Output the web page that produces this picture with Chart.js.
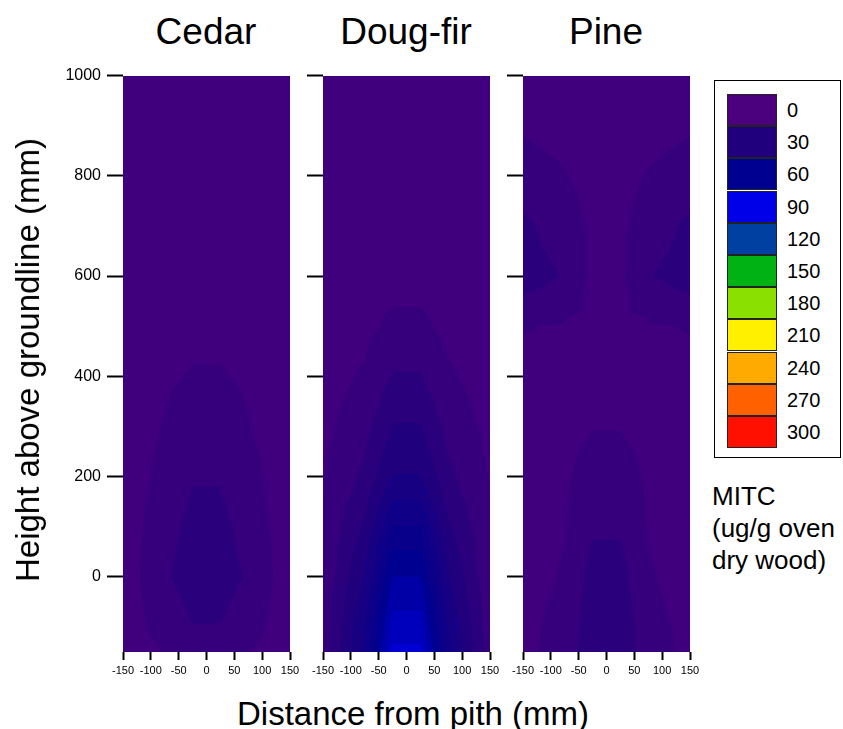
<!DOCTYPE html>
<html>
<head>
<meta charset="utf-8">
<script src="https://cdn.jsdelivr.net/npm/chart.js@4.4.1/dist/chart.umd.min.js"></script>
<style>
  body { margin: 0; background: #fff; width: 843px; height: 729px; position: relative; overflow: hidden;
         font-family: "Liberation Sans", Arial, Helvetica, sans-serif; color: #000; }
  canvas.panel { position: absolute; top: 60px; }
  .title { position: absolute; top: 10px; width: 200px; text-align: center; font-size: 37px; line-height: 44px; }
  #ytitle { position: absolute; left: 28px; top: 360px; font-size: 33px; white-space: nowrap;
            transform: translate(-50%, -50%) rotate(-90deg); }
  #xtitle { position: absolute; left: 413px; top: 714px; font-size: 33px; white-space: nowrap;
            transform: translate(-50%, -50%); }
  #legendBox { position: absolute; left: 714px; top: 80px; width: 125px; height: 376px; border: 1.5px solid #000; }
  .swatch { position: absolute; left: 12px; width: 48px; height: 30px; border: 1px solid #222; }
  .lvl { position: absolute; left: 72px; font-size: 20px; line-height: 20px; }
  #units { position: absolute; left: 712px; top: 480px; font-size: 26px; line-height: 32px; }
</style>
</head>
<body>

<div class="title" style="left:106px">Cedar</div>
<div class="title" style="left:306px">Doug-fir</div>
<div class="title" style="left:506px">Pine</div>

<canvas class="panel" id="cedarChart" width="266" height="630" style="left:40px"></canvas>
<canvas class="panel" id="dougfirChart" width="266" height="630" style="left:240px"></canvas>
<canvas class="panel" id="pineChart" width="266" height="630" style="left:440px"></canvas>

<div id="ytitle">Height above groundline (mm)</div>
<div id="xtitle">Distance from pith (mm)</div>

<div id="legendBox"></div>
<div id="units">MITC<br>(ug/g oven<br>dry wood)</div>

<script>
// sample grid: distance from pith (columns) and height above groundline (rows)
const distances = [-150, -75, -25, 25, 75, 150];
const heights = [-150, -100, 0, 100, 200, 300, 400, 500, 600, 700, 800, 900, 1000];

const xTicks = [-150, -100, -50, 0, 50, 100, 150];
const yTicks = [0, 200, 400, 600, 800, 1000];

// MITC (ug/g oven dry wood), one row per height, bottom row first
const cedarMitc = [
  [3.0, 7.8, 11.0, 11.0, 7.8, 3.0],
  [3.0, 11.0, 14.8, 14.8, 11.0, 3.0],
  [3.0, 14.3, 18.0, 18.0, 14.3, 3.0],
  [3.0, 12.5, 17.0, 17.0, 12.5, 3.0],
  [3.0, 10.0, 14.5, 14.5, 10.0, 3.0],
  [2.8, 8.0, 11.0, 11.0, 8.0, 2.8],
  [2.6, 6.5, 8.0, 8.0, 6.5, 2.6],
  [2.5, 5.0, 6.0, 6.0, 5.0, 2.5],
  [2.4, 4.5, 5.0, 5.0, 4.5, 2.4],
  [2.3, 4.0, 4.5, 4.5, 4.0, 2.3],
  [2.2, 3.5, 4.0, 4.0, 3.5, 2.2],
  [2.1, 3.0, 3.5, 3.5, 3.0, 2.1],
  [2.0, 2.8, 3.0, 3.0, 2.8, 2.0]
];

const dougfirMitc = [
  [11.0, 40.0, 77.1, 77.1, 40.0, 11.0],
  [10.5, 37.5, 70.9, 70.9, 37.5, 10.5],
  [9.0, 31.0, 60.2, 60.2, 31.0, 9.0],
  [8.0, 24.0, 45.2, 45.2, 24.0, 8.0],
  [7.0, 17.0, 30.4, 30.4, 17.0, 7.0],
  [5.5, 12.5, 23.0, 23.0, 12.5, 5.5],
  [4.5, 8.5, 15.6, 15.6, 8.5, 4.5],
  [4.0, 5.5, 9.1, 9.1, 5.5, 4.0],
  [3.5, 4.2, 5.0, 5.0, 4.2, 3.5],
  [3.0, 3.5, 4.0, 4.0, 3.5, 3.0],
  [2.8, 3.2, 3.5, 3.5, 3.2, 2.8],
  [2.5, 2.8, 3.0, 3.0, 2.8, 2.5],
  [2.2, 2.4, 2.5, 2.5, 2.4, 2.2]
];

const pineMitc = [
  [5.5, 11.0, 20.0, 20.0, 11.0, 5.5],
  [5.5, 10.0, 20.0, 20.0, 10.0, 5.5],
  [5.0, 8.1, 18.0, 18.0, 8.1, 5.0],
  [5.0, 7.2, 14.0, 14.0, 7.2, 5.0],
  [5.0, 6.5, 10.5, 10.5, 6.5, 5.0],
  [5.0, 6.0, 7.2, 7.2, 6.0, 5.0],
  [6.0, 6.0, 6.0, 6.0, 6.0, 6.0],
  [7.8, 7.0, 6.0, 6.0, 7.0, 7.8],
  [19.0, 14.5, 6.2, 6.2, 14.5, 19.0],
  [17.0, 10.0, 6.5, 6.5, 10.0, 17.0],
  [9.5, 7.8, 6.0, 6.0, 7.8, 9.5],
  [7.0, 6.0, 5.0, 5.0, 6.0, 7.0],
  [6.0, 5.0, 4.0, 4.0, 5.0, 6.0]
];

// colour scale
const levels = [0, 30, 60, 90, 120, 150, 180, 210, 240, 270, 300];
const levelColors = [
  [75, 0, 125], [32, 0, 125], [0, 0, 144], [0, 0, 232], [0, 64, 160], [0, 178, 20],
  [138, 224, 0], [255, 240, 0], [255, 170, 0], [255, 96, 0], [255, 16, 0]
];
const contourStep = 7.5;

function colorAt(v) {
  if (v <= levels[0]) return levelColors[0];
  for (let i = 1; i < levels.length; i++) {
    if (v <= levels[i]) {
      const t = (v - levels[i - 1]) / (levels[i] - levels[i - 1]);
      const a = levelColors[i - 1], b = levelColors[i];
      return [0, 1, 2].map(k => Math.round(a[k] + (b[k] - a[k]) * t));
    }
  }
  return levelColors[levelColors.length - 1];
}

function findCell(arr, v) {
  for (let i = 0; i < arr.length - 2; i++) {
    if (v <= arr[i + 1]) return i;
  }
  return arr.length - 2;
}

// linear value inside a triangle (u,v local coords), via barycentric weights
function triLerp(p, a, b, c) {
  const det = (b[1] - c[1]) * (a[0] - c[0]) + (c[0] - b[0]) * (a[1] - c[1]);
  const w1 = ((b[1] - c[1]) * (p[0] - c[0]) + (c[0] - b[0]) * (p[1] - c[1])) / det;
  const w2 = ((c[1] - a[1]) * (p[0] - c[0]) + (a[0] - c[0]) * (p[1] - c[1])) / det;
  return w1 * a[2] + w2 * b[2] + (1 - w1 - w2) * c[2];
}

function sampleGrid(grid, x, y) {
  const i = findCell(distances, x);
  const j = findCell(heights, y);
  const u = Math.min(1, Math.max(0, (x - distances[i]) / (distances[i + 1] - distances[i])));
  const v = Math.min(1, Math.max(0, (y - heights[j]) / (heights[j + 1] - heights[j])));
  const f00 = grid[j][i], f10 = grid[j][i + 1], f01 = grid[j + 1][i], f11 = grid[j + 1][i + 1];
  const c = [0.5, 0.5, (f00 + f10 + f01 + f11) / 4];
  const p = [u, v];
  if (v <= u && v <= 1 - u) return triLerp(p, [0, 0, f00], [1, 0, f10], c);
  if (v >= u && v >= 1 - u) return triLerp(p, [0, 1, f01], [1, 1, f11], c);
  if (u < 0.5) return triLerp(p, [0, 0, f00], [0, 1, f01], c);
  return triLerp(p, [1, 0, f10], [1, 1, f11], c);
}

// fills the plot area with contour bands read through the chart scales
const contourFill = {
  id: 'contour',
  beforeDatasetsDraw(chart, args, opts) {
    const { ctx, chartArea: area, scales } = chart;
    const w = Math.round(area.right - area.left);
    const h = Math.round(area.bottom - area.top);
    const off = document.createElement('canvas');
    off.width = w; off.height = h;
    const octx = off.getContext('2d');
    const img = octx.createImageData(w, h);
    const xs = [], ys = [];
    for (let px = 0; px < w; px++) xs.push(scales.x.getValueForPixel(area.left + px + 0.5));
    for (let py = 0; py < h; py++) ys.push(scales.y.getValueForPixel(area.top + py + 0.5));
    for (let py = 0; py < h; py++) {
      for (let px = 0; px < w; px++) {
        const val = sampleGrid(opts.grid, xs[px], ys[py]);
        const band = Math.floor(val / contourStep);
        const col = colorAt((band + 1) * contourStep);
        const k = (py * w + px) * 4;
        img.data[k] = col[0]; img.data[k + 1] = col[1]; img.data[k + 2] = col[2]; img.data[k + 3] = 255;
      }
    }
    octx.putImageData(img, 0, 0);
    ctx.drawImage(off, area.left, area.top, w, h);
  }
};

function panelConfig(grid, showYLabels) {
  return {
    type: 'scatter',
    data: { datasets: [] },
    plugins: [contourFill],
    options: {
      responsive: false,
      animation: false,
      events: [],
      layout: { padding: { top: 14, right: 16, bottom: 8, left: 0 } },
      plugins: {
        legend: { display: false },
        tooltip: { enabled: false },
        contour: { grid: grid }
      },
      scales: {
        x: {
          type: 'linear', min: -150, max: 150,
          afterBuildTicks: s => { s.ticks = xTicks.map(v => ({ value: v })); },
          afterFit: s => { s.height = 30; },
          border: { display: false },
          grid: { drawOnChartArea: false, tickColor: '#000', tickWidth: 2, tickLength: 8 },
          ticks: { color: '#000', autoSkip: false, maxRotation: 0, padding: 4,
                   font: { family: '"Liberation Sans", Arial, sans-serif', size: 11 } }
        },
        y: {
          type: 'linear', min: -150, max: 1000,
          afterBuildTicks: s => { s.ticks = yTicks.map(v => ({ value: v })); },
          afterFit: s => { s.width = 83; },
          border: { display: false },
          grid: { drawOnChartArea: false, tickColor: '#000', tickWidth: 2, tickLength: 16 },
          ticks: { color: '#000', padding: 6,
                   callback: v => showYLabels ? String(v) : '',
                   font: { family: '"Liberation Sans", Arial, sans-serif', size: 16 } }
        }
      }
    }
  };
}

new Chart(document.getElementById('cedarChart'), panelConfig(cedarMitc, true));
new Chart(document.getElementById('dougfirChart'), panelConfig(dougfirMitc, false));
new Chart(document.getElementById('pineChart'), panelConfig(pineMitc, false));

// colour key
const legendBox = document.getElementById('legendBox');
levels.forEach((lv, i) => {
  const top = 13 + i * 32.2;
  const sw = document.createElement('div');
  sw.className = 'swatch';
  sw.style.top = top + 'px';
  sw.style.background = 'rgb(' + levelColors[i].join(',') + ')';
  legendBox.appendChild(sw);
  const lab = document.createElement('div');
  lab.className = 'lvl';
  lab.style.top = (top + 6) + 'px';
  lab.textContent = lv;
  legendBox.appendChild(lab);
});
</script>
</body>
</html>
